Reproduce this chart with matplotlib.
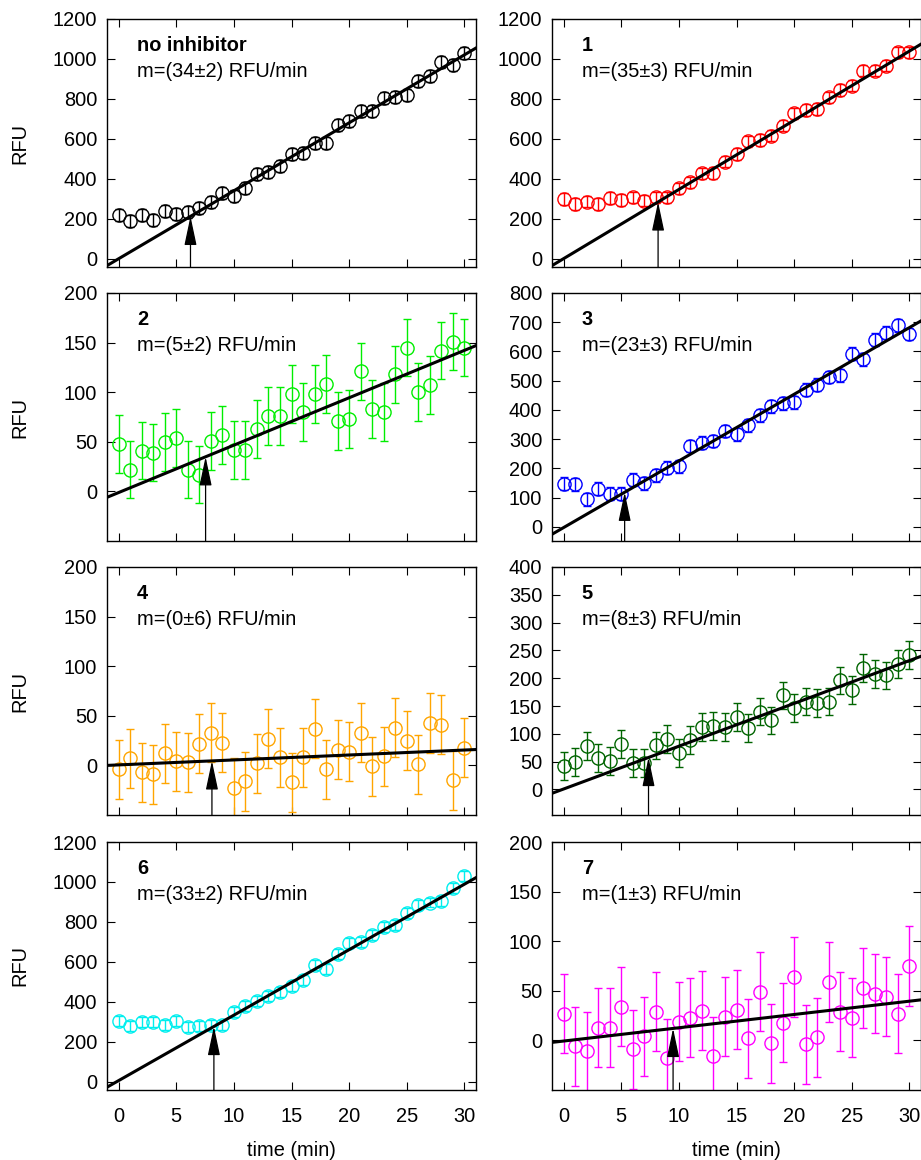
import matplotlib
matplotlib.use("Agg")
import matplotlib.pyplot as plt
import numpy as np

plt.rcParams["font.family"] = ["Liberation Sans", "DejaVu Sans"]
plt.rcParams["font.size"] = 14.4

TIME = np.arange(31)

NAMES = ["no inhibitor", "1", "2", "3", "4", "5", "6", "7"]
SLOPE_TEXT = ["m=(34±2) RFU/min", "m=(35±3) RFU/min", "m=(5±2) RFU/min", "m=(23±3) RFU/min",
              "m=(0±6) RFU/min", "m=(8±3) RFU/min", "m=(33±2) RFU/min", "m=(1±3) RFU/min"]
COLORS = ["black", "#ff0000", "#00ee00", "#0000ff", "#ffa500", "#006400", "#00eeee", "#ff00ff"]

RFU_0 = [220, 192, 220, 197, 238, 225, 233, 255, 287, 328, 313, 355, 425, 433, 463, 525,
         528, 580, 580, 672, 692, 742, 742, 805, 808, 822, 892, 917, 983, 970, 1028]
RFU_1 = [300, 275, 287, 275, 305, 295, 308, 292, 308, 308, 353, 383, 428, 430, 487, 525,
         588, 595, 617, 667, 728, 745, 750, 808, 845, 867, 942, 942, 967, 1033, 1033]
RFU_2 = [48, 22, 41, 39, 50, 54, 22, 17, 51, 57, 42, 42, 63, 76, 76, 98,
         80, 98, 108, 71, 73, 121, 83, 80, 118, 145, 100, 107, 142, 151, 145]
RFU_3 = [148, 146, 95, 131, 114, 114, 162, 149, 177, 203, 208, 277, 288, 294, 328, 317,
         348, 382, 413, 423, 427, 470, 487, 513, 519, 593, 573, 641, 664, 690, 660]
RFU_4 = [-4, 7, -7, -9, 12, 4, 3, 22, 33, 23, -23, -16, 2, 27, 8, -17,
         8, 37, -4, 16, 14, 33, -1, 9, 38, 25, 1, 43, 41, -15, 18]
RFU_5 = [42, 50, 78, 57, 51, 82, 47, 47, 79, 90, 66, 89, 112, 114, 112, 130,
         111, 140, 124, 169, 146, 158, 155, 158, 196, 179, 218, 207, 205, 225, 242]
RFU_6 = [305, 280, 297, 297, 283, 305, 275, 277, 285, 285, 347, 377, 402, 427, 450, 477,
         510, 583, 563, 638, 693, 697, 733, 772, 783, 843, 885, 897, 905, 972, 1030]
RFU_7 = [27, -6, -11, 13, 13, 34, -9, 4, 29, -18, 19, 23, 30, -16, 24, 31,
         2, 49, -3, 18, 64, -4, 3, 59, 29, 23, 53, 47, 44, 27, 75]
RFU = [RFU_0, RFU_1, RFU_2, RFU_3, RFU_4, RFU_5, RFU_6, RFU_7]
ERRORS = [30, 28, 29, 22, 30, 25, 25, 40]

# linear fits after the inhibitor addition (arrow)
FIT_SLOPE = [34.0, 34.6, 4.78, 22.8, 0.5, 7.7, 32.8, 1.34]
FIT_ICEPT = [1.0, 1.6, -1.2, -2.2, 0.5, 0.7, 4.8, -0.66]
ARROW_X = [6.24, 8.2, 7.55, 5.3, 8.1, 7.37, 8.27, 9.5]

YLIMS = [(-40, 1200), (-40, 1200), (-50, 200), (-48, 800),
         (-50, 200), (-46, 400), (-42, 1200), (-50, 200)]
YSTEPS = [200, 200, 50, 100, 50, 50, 200, 50]

W, H = 921, 1160
fig = plt.figure(figsize=(W / 100, H / 100), dpi=100)
col_left = [107 / W, 552 / W]
col_width = 369 / W
row_top = [19, 293, 567, 842]
row_height = 248

for i in range(8):
    r, c = divmod(i, 2)
    ax = fig.add_axes([col_left[c], 1 - (row_top[r] + row_height) / H, col_width, row_height / H])
    ax.errorbar(TIME, RFU[i], yerr=ERRORS[i], fmt="o", color=COLORS[i], mfc="none",
                ms=9.5, mew=1.0, elinewidth=1.0, capsize=3, capthick=1.0, zorder=2)
    xs = np.array([-1, 31])
    ax.plot(xs, FIT_SLOPE[i] * xs + FIT_ICEPT[i], color="black", lw=2.2, zorder=3)
    xa = ARROW_X[i]
    ax.annotate("", xy=(xa, FIT_SLOPE[i] * xa + FIT_ICEPT[i]), xytext=(xa, YLIMS[i][0]),
                arrowprops=dict(arrowstyle="-|>,head_length=1.8,head_width=0.38", color="black",
                                lw=0.9, shrinkA=0, shrinkB=0, mutation_scale=10), zorder=4)
    ax.set_xlim(-1, 31)
    ax.set_ylim(*YLIMS[i])
    ax.set_xticks(np.arange(0, 31, 5))
    ax.set_yticks(np.arange(0, YLIMS[i][1] + 1, YSTEPS[i]))
    ax.tick_params(direction="in", top=True, right=True, length=6, width=0.8)
    ax.tick_params(axis="y", pad=7)
    ax.tick_params(axis="x", pad=12)
    for s in ax.spines.values():
        s.set_linewidth(1.0)
    ax.text(0.081, 0.895, NAMES[i], transform=ax.transAxes, fontweight="bold", va="center")
    ax.text(0.081, 0.79, SLOPE_TEXT[i], transform=ax.transAxes, va="center")
    if c == 0:
        ax.set_ylabel("RFU")
        ax.yaxis.set_label_coords(-(107 - 29) / 369, 0.5)
    if r == 3:
        ax.set_xlabel("time (min)", labelpad=11)
    else:
        ax.set_xticklabels([])

fig.savefig("out.png", dpi=100)
